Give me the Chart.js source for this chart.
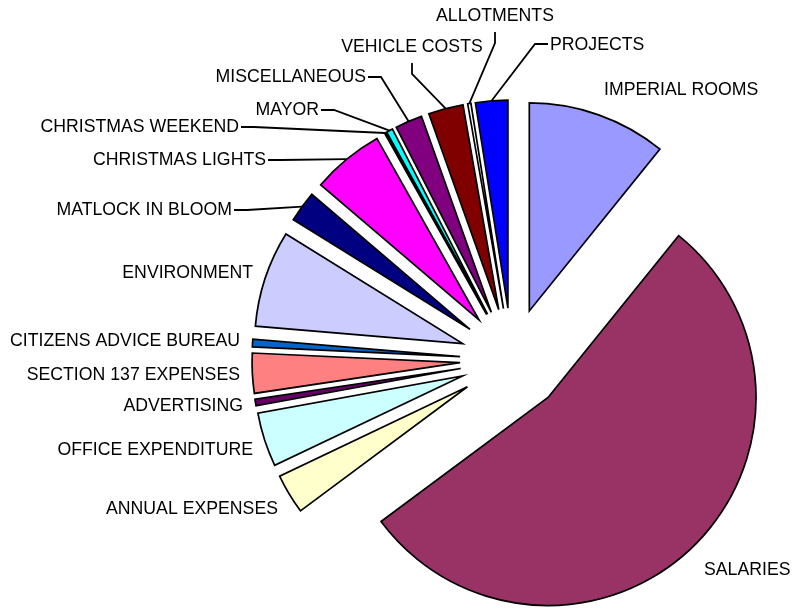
<!DOCTYPE html>
<html lang="en">
<head>
    <meta charset="UTF-8">
    <title>Expenditure</title>
    <script src="https://cdn.jsdelivr.net/npm/chart.js"></script>
    <style>
        html, body { margin: 0; padding: 0; background: #fff; }
    </style>
</head>
<body>
    <canvas id="pieChart" width="792" height="609"></canvas>

    <script>
        // categories and share of spending (%)
        const categories = ['IMPERIAL ROOMS', 'SALARIES', 'ANNUAL EXPENSES', 'OFFICE EXPENDITURE', 'ADVERTISING',
            'SECTION 137 EXPENSES', 'CITIZENS ADVICE BUREAU', 'ENVIRONMENT', 'MATLOCK IN BLOOM', 'CHRISTMAS LIGHTS',
            'CHRISTMAS WEEKEND', 'MAYOR', 'MISCELLANEOUS', 'VEHICLE COSTS', 'ALLOTMENTS', 'PROJECTS'];
        const shares = [10.8, 54.0, 3.1, 4.2, 0.5, 3.1, 0.6, 7.5, 2.4, 5.6, 0.1, 0.5, 2.1, 2.7, 0.25, 2.5];
        const colours = ['#9999FF', '#993366', '#FFFFCC', '#CCFFFF', '#660066', '#FF8080', '#0066CC', '#CCCCFF',
            '#000080', '#FF00FF', '#FFFF00', '#00FFFF', '#800080', '#800000', '#FFFFFF', '#0000FF'];

        // where each label sits and how its leader line leaves it
        const labelSpots = [
            { x: 604, y: 90, align: 'left' },
            { x: 704, y: 570, align: 'left' },
            { x: 278, y: 509, align: 'right' },
            { x: 253, y: 450, align: 'right' },
            { x: 243, y: 406, align: 'right' },
            { x: 240, y: 375, align: 'right' },
            { x: 240, y: 341, align: 'right' },
            { x: 253, y: 273, align: 'right' },
            { x: 232, y: 210, align: 'right', leader: 'right' },
            { x: 266, y: 160, align: 'right', leader: 'right' },
            { x: 239, y: 127, align: 'right', leader: 'right' },
            { x: 319, y: 110, align: 'right', leader: 'right' },
            { x: 366, y: 77, align: 'right', leader: 'right' },
            { x: 412, y: 47, align: 'center', leader: 'down' },
            { x: 495, y: 16, align: 'center', leader: 'down' },
            { x: 550, y: 45, align: 'left', leader: 'left' }
        ];

        const EXPLODE = 52;

        // Excel style exploded slices: same radius for every slice, just moved out
        const Arc = Chart.registry.getElement('arc');
        Arc.prototype.draw = function (ctx) {
            const o = this.options;
            const mid = (this.startAngle + this.endAngle) / 2;
            const d = o.offset || 0;
            const cx = this.x + Math.cos(mid) * d;
            const cy = this.y + Math.sin(mid) * d;
            ctx.save();
            ctx.beginPath();
            ctx.moveTo(cx, cy);
            ctx.arc(cx, cy, this.outerRadius, this.startAngle, this.endAngle);
            ctx.closePath();
            ctx.fillStyle = o.backgroundColor;
            ctx.fill();
            ctx.lineWidth = o.borderWidth;
            ctx.strokeStyle = o.borderColor;
            ctx.lineJoin = 'miter';
            ctx.stroke();
            ctx.restore();
        };

        const sliceLabels = {
            id: 'sliceLabels',
            afterDatasetsDraw(chart) {
                const ctx = chart.ctx;
                const arcs = chart.getDatasetMeta(0).data;
                ctx.save();
                ctx.font = '17.7px "Liberation Sans", Arial, sans-serif';
                ctx.fillStyle = '#000';
                ctx.strokeStyle = '#000';
                ctx.lineWidth = 1.8;
                ctx.textBaseline = 'middle';
                arcs.forEach((arc, i) => {
                    const spot = labelSpots[i];
                    ctx.textAlign = spot.align;
                    ctx.fillText(categories[i], spot.x, spot.y);
                    if (!spot.leader) return;
                    const mid = (arc.startAngle + arc.endAngle) / 2;
                    const r = EXPLODE + arc.outerRadius;
                    const px = arc.x + Math.cos(mid) * r;
                    const py = arc.y + Math.sin(mid) * r;
                    let sx, sy, ex, ey;
                    if (spot.leader === 'right') {
                        sx = spot.x + 2; sy = spot.y; ex = spot.x + 15; ey = spot.y;
                    } else if (spot.leader === 'left') {
                        sx = spot.x - 2; sy = spot.y - 1; ex = spot.x - 15; ey = spot.y - 1;
                    } else {
                        sx = spot.x; sy = spot.y + 16; ex = spot.x; ey = spot.y + 27;
                    }
                    ctx.beginPath();
                    ctx.moveTo(sx, sy);
                    ctx.lineTo(ex, ey);
                    ctx.lineTo(px, py);
                    ctx.stroke();
                });
                ctx.restore();
            }
        };

        new Chart(document.getElementById('pieChart'), {
            type: 'pie',
            data: {
                labels: categories,
                datasets: [{
                    data: shares,
                    backgroundColor: colours,
                    borderColor: '#000',
                    borderWidth: 1.7,
                    offset: EXPLODE
                }]
            },
            options: {
                responsive: false,
                animation: false,
                devicePixelRatio: 1,
                radius: 208,
                layout: { padding: { left: 232, right: 0, top: 111, bottom: 0 } },
                plugins: {
                    legend: { display: false },
                    tooltip: { enabled: false }
                }
            },
            plugins: [sliceLabels]
        });
    </script>
</body>
</html>
